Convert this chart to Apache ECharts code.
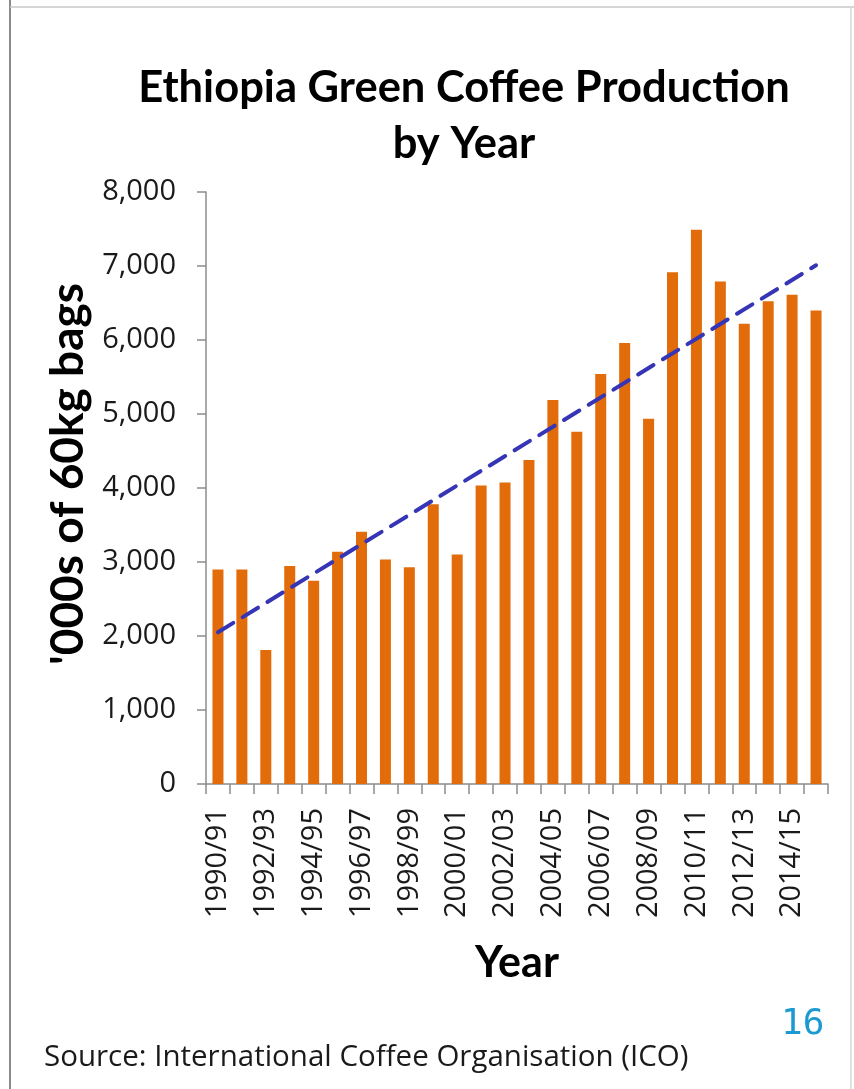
<!DOCTYPE html>
<html>
<head>
<meta charset="utf-8">
<title>Ethiopia Green Coffee Production by Year</title>
<script src="https://cdn.jsdelivr.net/npm/echarts@6/dist/echarts.min.js"></script>
<style>
  html, body { margin: 0; padding: 0; background: #ffffff; }
  #chart { width: 854px; height: 1089px; }
</style>
</head>
<body>
<div id="chart"></div>
<script>
// Crop years, 1990/91 to 2015/16
const years = [
  '1990/91', '1991/92', '1992/93', '1993/94', '1994/95', '1995/96', '1996/97',
  '1997/98', '1998/99', '1999/00', '2000/01', '2001/02', '2002/03', '2003/04',
  '2004/05', '2005/06', '2006/07', '2007/08', '2008/09', '2009/10', '2010/11',
  '2011/12', '2012/13', '2013/14', '2014/15', '2015/16'
];

// Production, thousands of 60kg bags
const production = [
  2900, 2900, 1810, 2945, 2745, 3140, 3410, 3035, 2930, 3780, 3100, 4035, 4075,
  4380, 5190, 4760, 5540, 5960, 4935, 6915, 7490, 6790, 6220, 6525, 6610, 6400
];

// Linear trend, value at first and last season
const trendEnds = [2050, 7010];

const yTicks = [0, 1000, 2000, 3000, 4000, 5000, 6000, 7000, 8000];

const chart = echarts.init(document.getElementById('chart'), null, { renderer: 'canvas' });

const axisGrey = '#8c8c8c';
const tickFont = 'Open Sans';

chart.setOption({
  backgroundColor: '#ffffff',
  animation: false,
  title: {
    text: 'Ethiopia Green Coffee Production\nby Year',
    left: 459,
    top: 55,
    textAlign: 'center',
    textStyle: {
      fontFamily: 'Lato',
      fontWeight: 'bold',
      fontSize: 43.5,
      lineHeight: 56,
      color: '#000000'
    }
  },
  grid: {
    left: 206,
    right: 26,
    top: 192,
    bottom: 305,
    containLabel: false
  },
  xAxis: {
    type: 'category',
    data: years,
    boundaryGap: true,
    name: 'Year',
    nameLocation: 'middle',
    nameGap: 158,
    nameTextStyle: {
      fontFamily: 'Lato',
      fontWeight: 'bold',
      fontSize: 43,
      color: '#000000'
    },
    axisLine: { show: true, lineStyle: { color: axisGrey, width: 1.5 } },
    axisTick: {
      show: true,
      interval: 0,
      length: 10,
      alignWithLabel: false,
      lineStyle: { color: axisGrey, width: 1.5 }
    },
    axisLabel: {
      interval: 1,
      rotate: 90,
      margin: 24,
      fontFamily: tickFont,
      fontSize: 29,
      color: '#1a1a1a'
    },
    splitLine: { show: false }
  },
  yAxis: {
    type: 'value',
    min: yTicks[0],
    max: yTicks[yTicks.length - 1],
    interval: yTicks[1] - yTicks[0],
    name: "'000s of 60kg bags",
    nameLocation: 'middle',
    nameGap: 90,
    nameRotate: 90,
    nameTextStyle: {
      fontFamily: 'Lato',
      fontWeight: 'bold',
      fontSize: 46,
      color: '#000000',
      padding: [0, 0, 0, 28]
    },
    axisLine: { show: true, lineStyle: { color: axisGrey, width: 1.5 } },
    axisTick: { show: true, length: 9, inside: false, lineStyle: { color: axisGrey, width: 1.5 } },
    axisLabel: {
      margin: 30,
      fontFamily: tickFont,
      fontSize: 29,
      color: '#1a1a1a',
      formatter: v => v.toLocaleString('en-US')
    },
    splitLine: { show: false }
  },
  series: [
    {
      name: 'Production',
      type: 'bar',
      data: production,
      barWidth: 11,
      itemStyle: { color: '#e36c0a' }
    },
    {
      name: 'Linear trend',
      type: 'line',
      data: [[years[0], trendEnds[0]], [years[years.length - 1], trendEnds[1]]],
      symbol: 'none',
      z: 5,
      lineStyle: {
        color: '#3535b5',
        width: 4,
        type: [18, 11],
        cap: 'round'
      }
    }
  ],
  graphic: [
    // page frame
    { type: 'line', shape: { x1: 10, y1: 0, x2: 10, y2: 1089 }, style: { stroke: '#8a8a8a', lineWidth: 2 } },
    { type: 'line', shape: { x1: 10, y1: 7, x2: 854, y2: 7 }, style: { stroke: '#c8c8c8', lineWidth: 1.5 } },
    { type: 'line', shape: { x1: 851, y1: 7, x2: 851, y2: 1089 }, style: { stroke: '#d8d8d8', lineWidth: 1.5 } },
    {
      type: 'text',
      left: 44,
      top: 1043,
      style: {
        text: 'Source: International Coffee Organisation (ICO)',
        font: '29.5px "Open Sans"',
        fill: '#1a1a1a'
      }
    },
    {
      type: 'text',
      left: 781,
      top: 1007,
      style: {
        text: '16',
        font: '36px "DejaVu Sans Mono"',
        fill: '#1b9ad2'
      }
    }
  ]
});
</script>
</body>
</html>
